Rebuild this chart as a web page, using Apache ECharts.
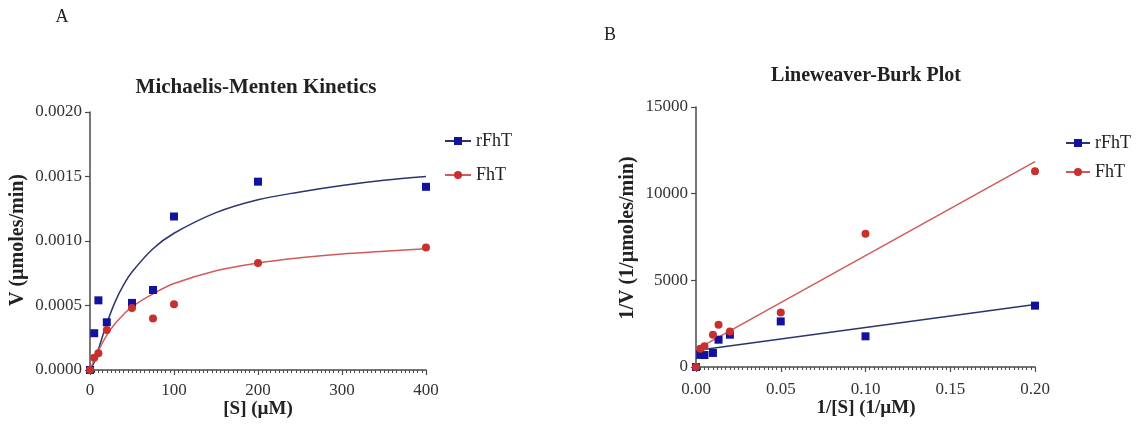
<!DOCTYPE html>
<html><head><meta charset="utf-8">
<script src="https://cdn.jsdelivr.net/npm/echarts@6/dist/echarts.min.js"></script>
<style>html,body{margin:0;padding:0;background:#fff}#c{width:1142px;height:434px}</style>
</head><body><div id="c"></div>
<script>
// ---- Panel A: Michaelis-Menten data ----
const substrate = [0, 5, 10, 20, 50, 75, 100, 200, 400];
const vRFhT = [0, 0.000285, 0.00054, 0.00037, 0.00052, 0.00062, 0.00119, 0.00146, 0.00142];
const vFhT = [0, 0.000095, 0.00013, 0.00031, 0.00048, 0.00040, 0.00051, 0.00083, 0.00095];
// fitted curves
const fitS = [0, 5, 10, 20, 30, 40, 50, 75, 100, 150, 200, 250, 300, 350, 400];
const fitRFhT = [0, 0.00006, 0.00016, 0.00036, 0.00053, 0.00066, 0.00076, 0.00094, 0.00106, 0.00122, 0.00132, 0.00138, 0.00143, 0.00147, 0.0015];
const fitFhT = [0, 0.00008, 0.00015, 0.00027, 0.00036, 0.00043, 0.00049, 0.00059, 0.00067, 0.00077, 0.00083, 0.00087, 0.00090, 0.00092, 0.00094];

// ---- Panel B: Lineweaver-Burk data ----
const invS = [0, 0.0025, 0.005, 0.01, 0.0133, 0.02, 0.05, 0.1, 0.2];
const invVRFhT = [0, 700, 690, 810, 1575, 1865, 2630, 1770, 3540];
const invVFhT = [0, 1060, 1190, 1865, 2440, 2055, 3150, 7690, 11290];
const lineX = [0, 0.2];
const lineRFhT = [950, 3600];
const lineFhT = [1000, 11850];

const xTicksA = [0, 100, 200, 300, 400];
const yTicksA = [0, 0.0005, 0.001, 0.0015, 0.002];
const xTicksB = [0, 0.05, 0.1, 0.15, 0.2];
const yTicksB = [0, 5000, 10000, 15000];

const zip = (a, b) => a.map((v, i) => [v, b[i]]);

const SERIF = '"Liberation Serif", "DejaVu Serif", serif';
const AX = '#4a4a4a';
const BLUE_PT = '#12129e';
const BLUE_LN = '#2c3470';
const RED_PT = '#c8302e';
const RED_LN = '#d25a5a';

function xAxis(gi, min, max, interval, dec, margin) {
  return {
    type: 'value', gridIndex: gi, min, max, interval,
    axisLine: {show: true, onZero: false, lineStyle: {color: AX, width: 1.5}},
    axisTick: {show: true, length: 5, lineStyle: {color: AX, width: 1.2}},
    minorTick: {show: true, splitNumber: 20, length: 3, lineStyle: {color: AX, width: 1}},
    splitLine: {show: false},
    axisLabel: {margin, fontFamily: SERIF, fontSize: 17, color: '#333', formatter: v => v.toFixed(dec)}
  };
}
function yAxis(gi, min, max, interval, dec) {
  return {
    type: 'value', gridIndex: gi, min, max, interval,
    axisLine: {show: true, onZero: false, lineStyle: {color: AX, width: 1.5}},
    axisTick: {show: true, length: 5, lineStyle: {color: AX, width: 1.2}},
    splitLine: {show: false},
    axisLabel: {margin: 8, fontFamily: SERIF, fontSize: 17, color: '#333', formatter: v => v.toFixed(dec)}
  };
}
function txt(text, x, y, font, rot) {
  return {
    type: 'text', x, y, rotation: rot || 0, silent: true,
    style: {text, font, fill: '#222', align: 'center', verticalAlign: 'middle',
      textAlign: 'center', textVerticalAlign: 'middle'}
  };
}

const chart = echarts.init(document.getElementById('c'), null, {renderer: 'canvas'});
chart.setOption({
  backgroundColor: '#fff',
  animation: false,
  grid: [
    {left: 90, top: 112, width: 336, height: 258},
    {left: 696, top: 107, width: 339, height: 260}
  ],
  xAxis: [
    xAxis(0, xTicksA[0], xTicksA[xTicksA.length - 1], 100, 0, 12),
    xAxis(1, xTicksB[0], xTicksB[xTicksB.length - 1], 0.05, 2, 14.5)
  ],
  yAxis: [
    yAxis(0, yTicksA[0], yTicksA[yTicksA.length - 1], 0.0005, 4),
    yAxis(1, yTicksB[0], yTicksB[yTicksB.length - 1], 5000, 0)
  ],
  legend: [
    {data: ['rFhT', 'FhT'], orient: 'vertical', left: 444, top: 132, padding: 0,
     itemWidth: 26, itemHeight: 10, itemGap: 16,
     textStyle: {fontFamily: SERIF, fontSize: 18, color: '#222', lineHeight: 17}},
    {data: ['rFhT', 'FhT'], orient: 'vertical', left: 1065, top: 134, padding: 0,
     itemWidth: 24, itemHeight: 10, itemGap: 11,
     textStyle: {fontFamily: SERIF, fontSize: 18, color: '#222', lineHeight: 17}}
  ],
  graphic: [
    txt('A', 62, 17, '18px ' + SERIF),
    txt('B', 610, 35, '18px ' + SERIF),
    txt('Michaelis-Menten Kinetics', 256, 88, 'bold 21px ' + SERIF),
    txt('Lineweaver-Burk Plot', 866, 76, 'bold 20px ' + SERIF),
    txt('[S] (\u00b5M)', 258, 409, 'bold 19px ' + SERIF),
    txt('1/[S] (1/\u00b5M)', 866, 408, 'bold 19px ' + SERIF),
    txt('V (\u00b5moles/min)', 18, 240, 'bold 20px ' + SERIF, Math.PI / 2),
    txt('1/V (1/\u00b5moles/min)', 628, 238, 'bold 20px ' + SERIF, Math.PI / 2)
  ],
  series: [
    {name: 'rFhT', type: 'line', xAxisIndex: 0, yAxisIndex: 0, data: zip(fitS, fitRFhT),
     smooth: 0.35, showSymbol: false, symbol: 'rect', symbolSize: 8,
     lineStyle: {color: BLUE_LN, width: 1.5}, itemStyle: {color: BLUE_PT}, z: 2},
    {name: 'FhT', type: 'line', xAxisIndex: 0, yAxisIndex: 0, data: zip(fitS, fitFhT),
     smooth: 0.35, showSymbol: false, symbol: 'circle', symbolSize: 8,
     lineStyle: {color: RED_LN, width: 1.5}, itemStyle: {color: RED_PT}, z: 2},
    {name: 'rFhT points', type: 'scatter', xAxisIndex: 0, yAxisIndex: 0, data: zip(substrate, vRFhT),
     symbol: 'rect', symbolSize: 8, itemStyle: {color: BLUE_PT, opacity: 1}, clip: false, z: 3},
    {name: 'FhT points', type: 'scatter', xAxisIndex: 0, yAxisIndex: 0, data: zip(substrate, vFhT),
     symbol: 'circle', symbolSize: 8, itemStyle: {color: RED_PT, opacity: 1}, clip: false, z: 4},

    {name: 'rFhT LB', type: 'line', xAxisIndex: 1, yAxisIndex: 1, data: zip(lineX, lineRFhT),
     showSymbol: false, lineStyle: {color: BLUE_LN, width: 1.5}, z: 2},
    {name: 'FhT LB', type: 'line', xAxisIndex: 1, yAxisIndex: 1, data: zip(lineX, lineFhT),
     showSymbol: false, lineStyle: {color: RED_LN, width: 1.5}, z: 2},
    {name: 'rFhT LB points', type: 'scatter', xAxisIndex: 1, yAxisIndex: 1, data: zip(invS, invVRFhT),
     symbol: 'rect', symbolSize: 8, itemStyle: {color: BLUE_PT, opacity: 1}, clip: false, z: 3},
    {name: 'FhT LB points', type: 'scatter', xAxisIndex: 1, yAxisIndex: 1, data: zip(invS, invVFhT),
     symbol: 'circle', symbolSize: 8, itemStyle: {color: RED_PT, opacity: 1}, clip: false, z: 4}
  ]
});
</script>
</body></html>
